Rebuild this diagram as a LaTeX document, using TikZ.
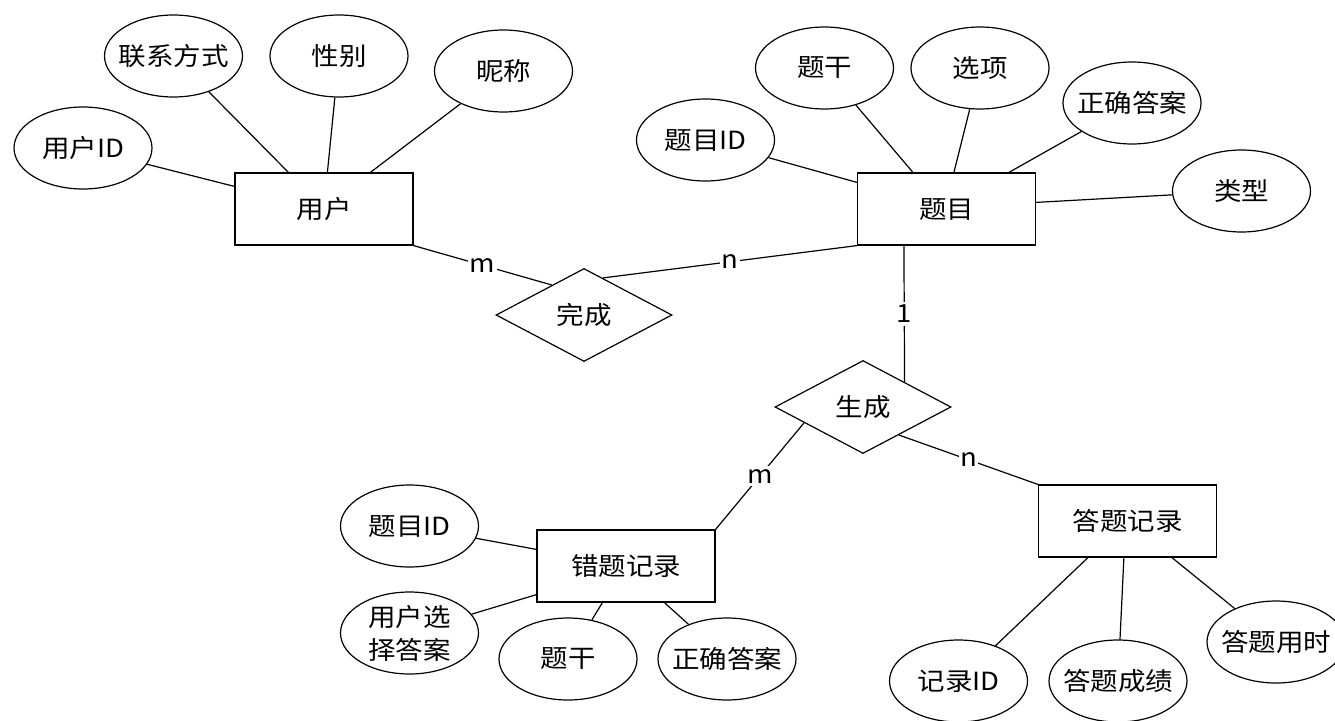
\documentclass[tikz,border=0pt]{standalone}
\usepackage{fontspec}
\newfontfamily\cjk[FakeStretch=1.1]{Noto Sans CJK SC}
\usetikzlibrary{shapes.geometric}
\begin{document}
\begin{tikzpicture}[x=1pt,y=-1pt,
  attr/.style={draw,ellipse,minimum width=138pt,minimum height=82pt,inner xsep=-8pt,inner ysep=0pt},
  ent/.style={draw,rectangle,minimum width=178pt,minimum height=72pt,inner sep=0pt},
  rel/.style={draw,diamond,minimum width=176pt,minimum height=93pt,inner sep=0pt},
  card/.style={fill=white,inner xsep=1.5pt,inner ysep=3pt},
  every node/.style={font=\cjk\fontsize{25}{33}\selectfont},
  line width=1.2pt]
\fill[white] (0,0) rectangle (1335,720);
\useasboundingbox (0,0) rectangle (1335,720);
% entities and attributes
\node[ent] (u) at (324,209) {用户};
\node[attr] (u1) at (83,148) {用户ID};
\node[attr] (u2) at (173.5,56) {联系方式};
\node[attr] (u3) at (339,56) {性别};
\node[attr] (u4) at (503.5,71) {昵称};
\node[rel] (d1) at (584,315) {完成};
\node[ent] (t) at (946.5,209) {题目};
\node[attr] (t1) at (705.5,140) {题目ID};
\node[attr] (t2) at (824.5,68) {题干};
\node[attr] (t3) at (980,68) {选项};
\node[attr] (t4) at (1132,103) {正确答案};
\node[attr] (t5) at (1241.5,191) {类型};
\node[rel] (d2) at (863,407) {生成};
\node[ent] (w) at (626,566) {错题记录};
\node[attr] (w1) at (409.5,526) {题目ID};
\node[attr,align=center] (w2) at (409.5,633) {用户选\\择答案};
\node[attr] (w3) at (568,659) {题干};
\node[attr] (w4) at (727,659) {正确答案};
\node[ent] (a) at (1127.5,521) {答题记录};
\node[attr] (a1) at (958.5,681) {记录ID};
\node[attr] (a2) at (1118,681) {答题成绩};
\node[attr] (a3) at (1276,642) {答题用时};
% connectors
\draw (u1) -- ([yshift=-14pt]u.north west);
\draw (u2) -- ([xshift=54pt]u.north west);
\draw (u3) -- ([xshift=93pt]u.north west);
\draw (u4) -- ([xshift=136pt]u.north west);
\draw (u.south east) -- node[card]{m} (d1.137);
\draw (t.south west) -- node[card]{n} (d1.63);
\draw (t1) -- ([yshift=-10pt]t.north west);
\draw (t2) -- ([xshift=56pt]t.north west);
\draw (t3) -- ([xshift=97pt]t.north west);
\draw (t4) -- ([xshift=152pt]t.north west);
\draw (t5) -- ([yshift=-30pt]t.north east);
\draw ([xshift=47pt]t.south west) -- node[card]{1} (d2.31);
\draw (d2.-165) -- node[card]{m} (w.north east);
\draw (d2.-38) -- node[card]{n} (a.north west);
\draw (w1) -- ([yshift=-20pt]w.north west);
\draw (w2) -- ([yshift=8pt]w.south west);
\draw (w3) -- ([xshift=66pt]w.south west);
\draw (w4) -- ([xshift=128pt]w.south west);
\draw (a1) -- ([xshift=50pt]a.south west);
\draw (a2) -- ([xshift=86pt]a.south west);
\draw (a3) -- ([xshift=134pt]a.south west);
\end{tikzpicture}
\end{document}
